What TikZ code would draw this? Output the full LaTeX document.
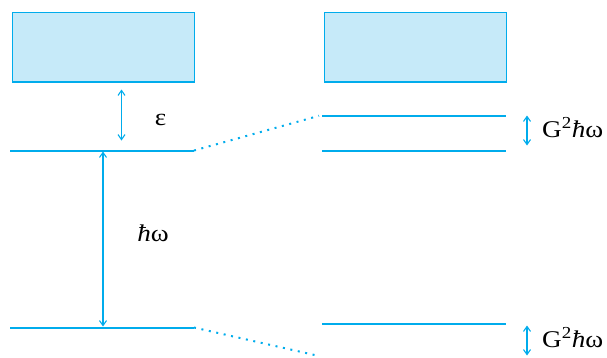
\documentclass[tikz,border=0pt]{standalone}
\usepackage{fontspec}
\setmainfont{Liberation Serif}
\newfontfamily\labfont[FakeStretch=1.13]{Liberation Serif}
\usetikzlibrary{arrows.meta}
\definecolor{lvl}{RGB}{0,172,236}
\definecolor{bandfill}{RGB}{198,234,249}
\tikzset{
  band/.style={draw=lvl, line width=1.5pt, fill=bandfill},
  level/.style={draw=lvl, line width=2pt},
  link/.style={draw=lvl, line width=2pt, dash pattern=on 2pt off 5.6pt},
  gap/.style={draw=lvl, line width=1.1pt, {Straight Barb[length=5pt,width=7pt]}-{Straight Barb[length=5pt,width=7pt]}},
  lab/.style={font=\labfont\fontsize{24}{28}\selectfont, inner sep=0pt}
}
\begin{document}
\begin{tikzpicture}[x=1pt, y=-1pt]
\useasboundingbox (0,0) rectangle (607,357);
% conduction bands
\node[band, minimum width=182pt, minimum height=69.5pt, inner sep=0pt] (bandL) at (103.4,47.2) {};
\node[band, minimum width=182pt, minimum height=69.5pt, inner sep=0pt] (bandR) at (415.4,47.2) {};
% left levels
\coordinate (uL1) at (10,150.5);  \coordinate (uL2) at (194,150.5);
\coordinate (lL1) at (10,327.5);  \coordinate (lL2) at (194,327.5);
\draw[level] (uL1) -- (uL2);
\draw[level] (lL1) -- (lL2);
% right split levels
\coordinate (aR1) at (322,115.8); \coordinate (aR2) at (506,115.8);
\coordinate (bR1) at (322,150.5); \coordinate (bR2) at (506,150.5);
\coordinate (cR1) at (322,323.5); \coordinate (cR2) at (506,323.5);
\draw[level] (aR1) -- (aR2);
\draw[level] (bR1) -- (bR2);
\draw[level] (cR1) -- (cR2);
% dotted correspondences
\coordinate (dU) at (319,115.8);
\coordinate (dL) at (319,356);
\draw[link] (uL2) -- (dU);
\draw[link] (lL2) -- (dL);
% gap arrows
\coordinate (e1) at (121.5,89.5);  \coordinate (e2) at (121.5,140.5);
\coordinate (w1) at (103,151.5);   \coordinate (w2) at (103,326.5);
\coordinate (g1) at (527,115.5);   \coordinate (g2) at (527,145.5);
\coordinate (h1) at (527,325.5);   \coordinate (h2) at (527,355.5);
\draw[gap] (e1) -- (e2);
\draw[gap] (w1) -- (w2);
\draw[gap] (g1) -- (g2);
\draw[gap] (h1) -- (h2);
% labels
\node[lab, anchor=base] (eps) at (160.5,125.3) {ε};
\node[lab, anchor=base] (hw) at (153,241.7) {\textit{ħ}ω};
\node[lab, anchor=base west] (gU) at (542,137.3) {G\textsuperscript{2}\textit{ħ}ω};
\node[lab, anchor=base west] (gL) at (542,347.5) {G\textsuperscript{2}\textit{ħ}ω};
\end{tikzpicture}
\end{document}
